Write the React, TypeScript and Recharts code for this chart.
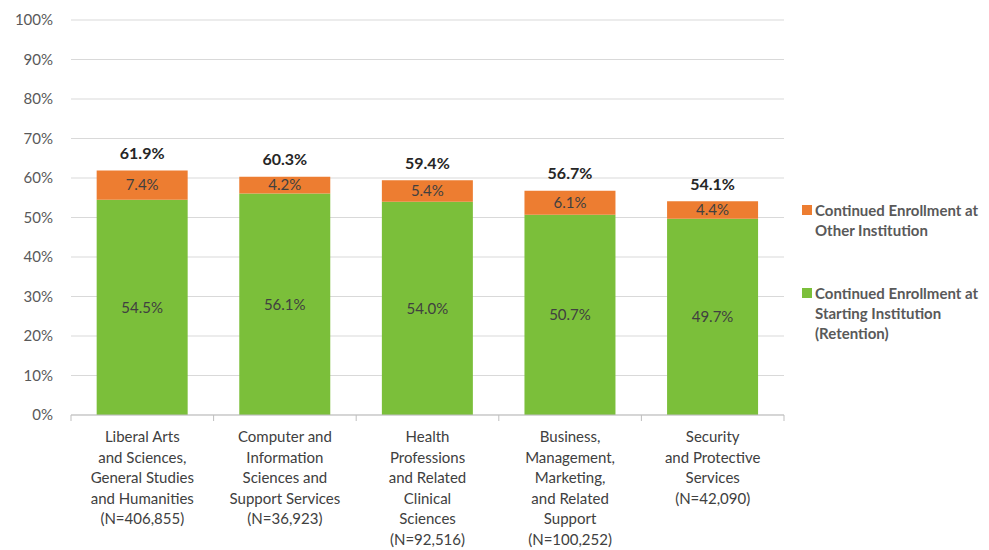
import React from 'react';
import { BarChart, Bar, XAxis, YAxis, CartesianGrid, LabelList } from 'recharts';

const categoryLines: string[][] = [
  ['Liberal Arts', 'and Sciences,', 'General Studies', 'and Humanities', '(N=406,855)'],
  ['Computer and', 'Information', 'Sciences and', 'Support Services', '(N=36,923)'],
  ['Health', 'Professions', 'and Related', 'Clinical', 'Sciences', '(N=92,516)'],
  ['Business,', 'Management,', 'Marketing,', 'and Related', 'Support', '(N=100,252)'],
  ['Security', 'and Protective', 'Services', '(N=42,090)'],
];
const retention = [54.5, 56.1, 54.0, 50.7, 49.7];
const otherInstitution = [7.4, 4.2, 5.4, 6.1, 4.4];
const totals = [61.9, 60.3, 59.4, 56.7, 54.1];
const yTicks = [0, 10, 20, 30, 40, 50, 60, 70, 80, 90, 100];
const seriesNames = {
  other: ['Continued Enrollment at', 'Other Institution'],
  retention: ['Continued Enrollment at', 'Starting Institution', '(Retention)'],
};

const GREEN = '#7BBF3A';
const ORANGE = '#ED7D31';
const FONT = 'Lato, "Open Sans", sans-serif';

const data = categoryLines.map((lines, i) => ({
  name: lines.join(' '),
  retention: retention[i],
  other: otherInstitution[i],
  total: totals[i],
}));

const CategoryTick = (props: any) => {
  const { x, y, index, width, visibleTicksCount } = props;
  const lines = categoryLines[index] || [];
  const band = width && visibleTicksCount ? width / visibleTicksCount : 142.5;
  const last = index === (visibleTicksCount || 5) - 1;
  return (
    <g>
      <line x1={x - band / 2} x2={x - band / 2} y1={y} y2={y + 6} stroke="#bfbfbf" />
      {last && <line x1={x + band / 2} x2={x + band / 2} y1={y} y2={y + 6} stroke="#bfbfbf" />}
      {lines.map((l, i) => (
        <text
          key={i}
          x={x}
          y={y + 22 + i * 20.5}
          dy="0.35em"
          textAnchor="middle"
          fill="#404040"
          fontSize={15}
          fontFamily={FONT}
        >
          {l}
        </text>
      ))}
    </g>
  );
};

const TotalLabel = (props: any) => {
  const { x, y, width, index } = props;
  return (
    <text
      x={x + width / 2}
      y={y - 17}
      dy="0.35em"
      textAnchor="middle"
      fill="#262626"
      fontSize={16}
      fontWeight={700}
      fontFamily={FONT}
    >
      {totals[index].toFixed(1)}%
    </text>
  );
};

const LegendBlock = () => {
  const item = (color: string, lines: string[], mt: number) => (
    <div style={{ position: 'relative', paddingLeft: 17, marginTop: mt }}>
      <span
        style={{
          position: 'absolute',
          left: 4,
          top: 5,
          width: 10,
          height: 10,
          background: color,
        }}
      />
      {lines.map((l, i) => (
        <div key={i}>{l}</div>
      ))}
    </div>
  );
  return (
    <div
      style={{
        position: 'absolute',
        left: 798,
        top: 200,
        fontFamily: FONT,
        fontWeight: 700,
        fontSize: 15,
        color: '#595959',
        lineHeight: '20px',
        whiteSpace: 'nowrap',
      }}
    >
      {item(ORANGE, seriesNames.other, 0)}
      {item(GREEN, seriesNames.retention, 43)}
    </div>
  );
};

export default function App() {
  return (
    <div style={{ position: 'absolute', left: 0, top: 0, width: 989, height: 550, background: '#fff' }}>
      <BarChart
        width={989}
        height={550}
        data={data}
        margin={{ top: 20, right: 205, bottom: 0, left: 11 }}
        barCategoryGap="18%"
      >
        <CartesianGrid vertical={false} stroke="#d9d9d9" />
        <YAxis
          domain={[0, 100]}
          ticks={yTicks}
          tickFormatter={(v) => `${v}%`}
          axisLine={false}
          tickLine={false}
          tickMargin={12}
          width={60}
          interval={0}
          tick={{ fill: '#595959', fontSize: 15, fontFamily: FONT }}
        />
        <XAxis
          dataKey="name"
          height={135}
          interval={0}
          tickLine={false}
          tickSize={0}
          tickMargin={0}
          axisLine={{ stroke: '#bfbfbf' }}
          tick={<CategoryTick />}
        />
        <Bar dataKey="retention" stackId="a" fill={GREEN} isAnimationActive={false}>
          <LabelList
            dataKey="retention"
            position="center"
            formatter={(v: any) => `${Number(v).toFixed(1)}%`}
            fill="#404040"
            fontSize={15}
            fontFamily={FONT}
          />
        </Bar>
        <Bar dataKey="other" stackId="a" fill={ORANGE} isAnimationActive={false}>
          <LabelList
            dataKey="other"
            position="center"
            formatter={(v: any) => `${Number(v).toFixed(1)}%`}
            fill="#404040"
            fontSize={15}
            fontFamily={FONT}
          />
          <LabelList dataKey="total" content={<TotalLabel />} />
        </Bar>
      </BarChart>
      <LegendBlock />
    </div>
  );
}
